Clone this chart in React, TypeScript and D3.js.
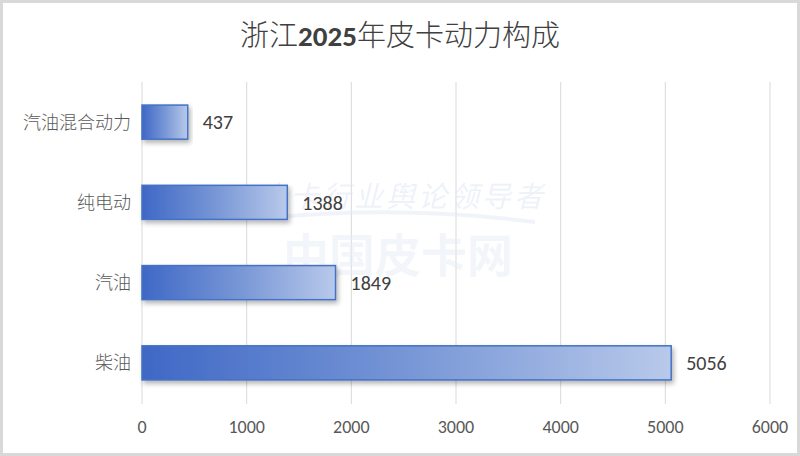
import React from "react";
import * as d3 from "d3";

const categories = ["汽油混合动力", "纯电动", "汽油", "柴油"];
const values = [437, 1388, 1849, 5056];
const xTicks = [0, 1000, 2000, 3000, 4000, 5000, 6000];
const titleA = "浙江";
const titleYear = "2025";
const titleB = "年皮卡动力构成";
const watermarkSmall = "皮卡行业舆论领导者";
const watermarkBig = "中国皮卡网";

const W = 800;
const H = 456;

export default function App() {
  const x = d3.scaleLinear().domain([0, 6000]).range([142, 770]);
  const y = d3
    .scaleBand<string>()
    .domain(categories)
    .range([82, 403])
    .paddingInner(0.575)
    .paddingOuter(0.2875);
  const fontCJK = "'Noto Sans CJK SC', 'Noto Sans', sans-serif";
  const fontNum = "Carlito, 'Liberation Sans', 'Open Sans', sans-serif";
  return (
    <svg
      width={W}
      height={H}
      style={{ position: "absolute", left: 0, top: 0, background: "#fff" }}
    >
      <defs>
        <linearGradient id="barGrad" x1="0" x2="1" y1="0" y2="0">
          <stop offset="0" stopColor="#3f68c6" />
          <stop offset="0.5" stopColor="#7796d6" />
          <stop offset="1" stopColor="#b8c9ea" />
        </linearGradient>
        <filter id="shadow" x="-5%" y="-20%" width="115%" height="160%">
          <feGaussianBlur in="SourceAlpha" stdDeviation="2.5" />
          <feOffset dx="2" dy="3" result="b" />
          <feComponentTransfer>
            <feFuncA type="linear" slope="0.3" />
          </feComponentTransfer>
          <feMerge>
            <feMergeNode />
            <feMergeNode in="SourceGraphic" />
          </feMerge>
        </filter>
      </defs>
      <rect x={1.5} y={1.5} width={W - 3} height={H - 3} fill="#fff" stroke="#d9d9d9" strokeWidth={3} />
      <text
        x={400}
        y={46}
        textAnchor="middle"
        fontFamily={fontCJK}
        fontSize={29}
        fontWeight={300}
        fill="#404040"
      >
        {titleA}
        <tspan fontWeight="bold" fontFamily={fontNum}>{titleYear}</tspan>
        {titleB}
      </text>
      {xTicks.map((t) => (
        <line
          key={t}
          x1={x(t)}
          x2={x(t)}
          y1={82}
          y2={404}
          stroke="#d9d9d9"
          strokeWidth={1}
        />
      ))}
      <g opacity={0.5} pointerEvents="none">
        <text x={402} y={207} textAnchor="middle" fontFamily={fontCJK} fontSize={29} fill="#dfe6f3" fontStyle="italic" letterSpacing={3}>
          {watermarkSmall}
        </text>
        <path d="M268,218 Q400,205 535,222" stroke="#e3e9f5" strokeWidth={4} fill="none" />
        <text x={398} y={272} textAnchor="middle" fontFamily={fontCJK} fontSize={46} fontWeight="bold" fill="#e6ecf7">
          {watermarkBig}
        </text>
      </g>
      {categories.map((c, i) => (
        <g key={c}>
          <rect
            x={x(0)}
            y={y(c)!}
            width={x(values[i]) - x(0)}
            height={y.bandwidth()}
            fill="url(#barGrad)"
            stroke="#4472c4"
            strokeWidth={1.5}
            filter="url(#shadow)"
          />
          <text
            x={x(values[i]) + 15}
            y={y(c)! + y.bandwidth() / 2}
            dy="0.36em"
            fontFamily={fontNum}
            fontSize={20}
            fill="#404040"
          >
            {values[i]}
          </text>
          <text
            x={131}
            y={y(c)! + y.bandwidth() / 2}
            dy="0.36em"
            textAnchor="end"
            fontFamily={fontCJK}
            fontSize={18}
            fontWeight={300}
            fill="#595959"
          >
            {c}
          </text>
        </g>
      ))}
      {xTicks.map((t) => (
        <text
          key={t}
          x={x(t)}
          y={433}
          textAnchor="middle"
          fontFamily={fontNum}
          fontSize={18}
          fill="#595959"
        >
          {t}
        </text>
      ))}
    </svg>
  );
}
